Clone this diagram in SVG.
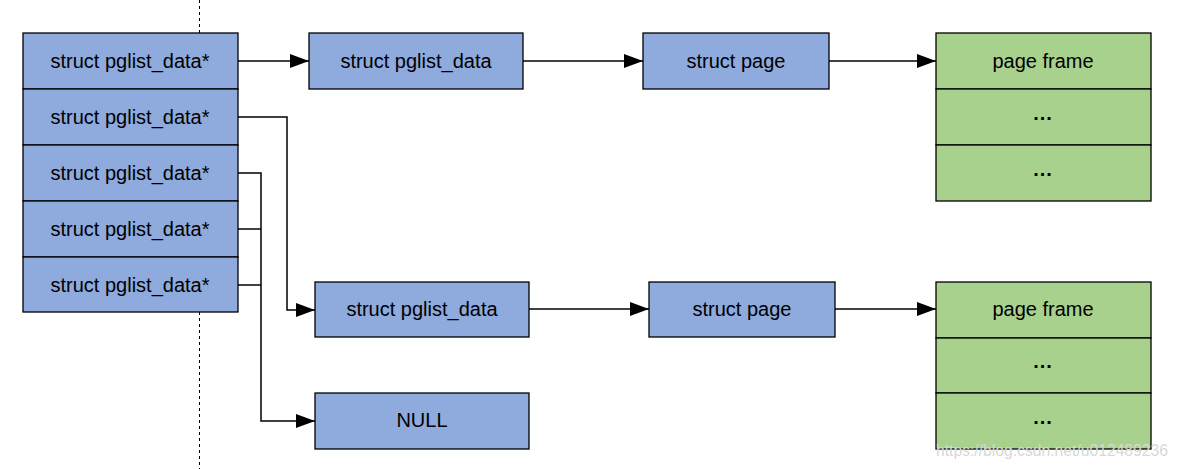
<svg xmlns="http://www.w3.org/2000/svg" width="1179" height="469" viewBox="0 0 1179 469">
<style>
.b{fill:#8FAADC;stroke:#000;stroke-width:1.3}
.g{fill:#A9D18E;stroke:#000;stroke-width:1.3}
text{font-family:"Liberation Sans",Arial,sans-serif;font-size:20px;fill:#000;text-anchor:middle;dominant-baseline:central}
.d{font-weight:bold;letter-spacing:1px}
.c{fill:none;stroke:#000;stroke-width:1.5}
.w{font-size:16px;fill:#d8d8d8;text-anchor:start;dominant-baseline:auto}
</style>
<defs>
<marker id="a" markerUnits="userSpaceOnUse" markerWidth="20" markerHeight="14" refX="19" refY="7" orient="auto">
<path d="M0,0 L19,7 L0,14 Z" fill="#000"/>
</marker>
</defs>
<line x1="199.5" y1="0" x2="199.5" y2="469" stroke="#000" stroke-width="1" stroke-dasharray="3,3"/>
<g id="array">
<rect class="b" x="23" y="33" width="215" height="56"/>
<rect class="b" x="23" y="89" width="215" height="56"/>
<rect class="b" x="23" y="145" width="215" height="56"/>
<rect class="b" x="23" y="201" width="215" height="56"/>
<rect class="b" x="23" y="257" width="215" height="55"/>
<text x="130" y="61">struct pglist_data*</text>
<text x="130" y="117">struct pglist_data*</text>
<text x="130" y="173">struct pglist_data*</text>
<text x="130" y="229">struct pglist_data*</text>
<text x="130" y="285">struct pglist_data*</text>
</g>
<g id="pgdat1"><rect class="b" x="309" y="33" width="214" height="56"/><text x="416" y="61">struct pglist_data</text></g>
<g id="page1"><rect class="b" x="643" y="33" width="186" height="56"/><text x="736" y="61">struct page</text></g>
<g id="frame1">
<rect class="g" x="936" y="33" width="215" height="56"/>
<rect class="g" x="936" y="89" width="215" height="56"/>
<rect class="g" x="936" y="145" width="215" height="56"/>
<text x="1043" y="61">page frame</text>
<text class="d" x="1043" y="113">...</text>
<text class="d" x="1043" y="169">...</text>
</g>
<g id="pgdat2"><rect class="b" x="315" y="282" width="214" height="55"/><text x="422" y="309">struct pglist_data</text></g>
<g id="page2"><rect class="b" x="649" y="282" width="186" height="55"/><text x="742" y="309">struct page</text></g>
<g id="frame2">
<rect class="g" x="936" y="282" width="215" height="56"/>
<rect class="g" x="936" y="338" width="215" height="55"/>
<rect class="g" x="936" y="393" width="215" height="56"/>
<text x="1043" y="309">page frame</text>
<text class="d" x="1043" y="361">...</text>
<text class="d" x="1043" y="417">...</text>
</g>
<g id="null"><rect class="b" x="315" y="393" width="214" height="56"/><text x="422" y="420">NULL</text></g>
<g id="connectors">
<path class="c" d="M238,61 H309" marker-end="url(#a)"/>
<path class="c" d="M523,61 H643" marker-end="url(#a)"/>
<path class="c" d="M829,61 H936" marker-end="url(#a)"/>
<path class="c" d="M238,117 H287 V310 H315" marker-end="url(#a)"/>
<path class="c" d="M529,309 H649" marker-end="url(#a)"/>
<path class="c" d="M835,309 H936" marker-end="url(#a)"/>
<path class="c" d="M238,173 H261 V421 H315" marker-end="url(#a)"/>
<path class="c" d="M238,229 H261"/>
<path class="c" d="M238,285 H261"/>
</g>
<text class="w" x="936" y="456" textLength="232" lengthAdjust="spacingAndGlyphs">https://blog.csdn.net/u012489236</text>
</svg>
